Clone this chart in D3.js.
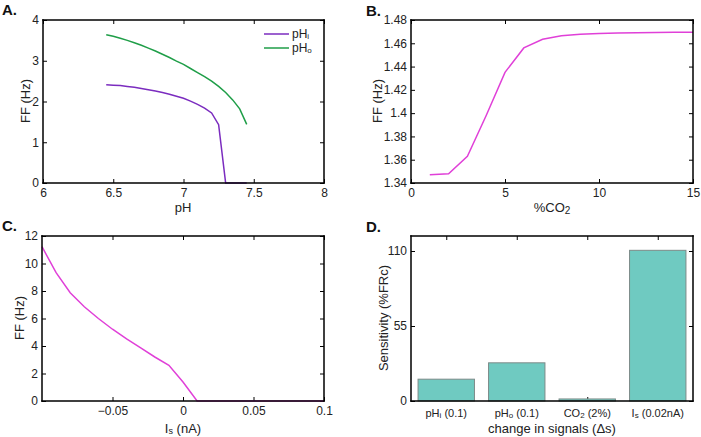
<!DOCTYPE html>
<html><head><meta charset="utf-8">
<script src="https://cdn.jsdelivr.net/npm/d3@7"></script>
<style>body{margin:0;background:#fff}svg{font-family:"Liberation Sans",Arial,sans-serif;display:block}</style>
</head><body><svg id="c" width="701" height="437"></svg>
<script>
// Panel A data
const pH = [6.45,6.5,6.55,6.6,6.65,6.7,6.75,6.8,6.85,6.9,6.95,7.0,7.05,7.1,7.15,7.2,7.25,7.3,7.35,7.4,7.45];
const ffPHi = [2.41,2.40,2.39,2.37,2.35,2.32,2.29,2.26,2.22,2.18,2.13,2.08,2.01,1.93,1.84,1.72,1.43,0,0,0,0];
const ffPHo = [3.64,3.60,3.55,3.50,3.44,3.38,3.31,3.24,3.16,3.08,2.99,2.91,2.81,2.71,2.61,2.50,2.37,2.22,2.04,1.82,1.44];
// Panel B data
const co2 = [1,2,3,4,5,6,7,8,9,10,11,12,13,14,15];
const ffCO2 = [1.347,1.348,1.363,1.398,1.435,1.456,1.4635,1.4665,1.4678,1.4684,1.4688,1.469,1.4692,1.4694,1.4695];
// Panel C data
const Is = [-0.1,-0.09,-0.08,-0.07,-0.06,-0.05,-0.04,-0.03,-0.02,-0.01,0,0.01,0.02,0.03,0.04,0.05,0.06,0.07,0.08,0.09,0.1];
const ffIs = [11.22,9.33,7.87,6.85,6.0,5.22,4.52,3.86,3.2,2.6,1.38,0,0,0,0,0,0,0,0,0,0];
// Panel D data
const signals = ["pHi (0.1)","pHo (0.1)","CO2 (2%)","Is (0.02nA)"];
const sensitivity = [16,28,1.5,110.5];
// ticks
const ticksAx = [6,6.5,7,7.5,8], ticksAy = [0,1,2,3,4];
const ticksBx = [0,5,10,15], ticksBy = [1.34,1.36,1.38,1.4,1.42,1.44,1.46,1.48];
const ticksCx = [-0.05,0,0.05,0.1], ticksCy = [0,2,4,6,8,10,12];
const ticksDy = [0,55,110];

const svg = d3.select("#c");
const TL = 4;

function panel(o){
  const g = svg.append("g");
  const x = d3.scaleLinear().domain(o.xd).range([o.x0,o.x1]);
  const y = d3.scaleLinear().domain(o.yd).range([o.y1,o.y0]);
  const xt = o.xt, yt = o.yt;
  const ax = g.append("g").attr("transform",`translate(0,${o.y1})`)
    .call(d3.axisBottom(x).tickValues(xt).tickSizeInner(-TL).tickSizeOuter(0).tickPadding(TL+1).tickFormat(o.xf||d3.format("")));
  const axT = g.append("g").attr("transform",`translate(0,${o.y0})`)
    .call(d3.axisTop(x).tickValues(xt).tickSizeInner(-TL).tickSizeOuter(0).tickFormat(""));
  const ay = g.append("g").attr("transform",`translate(${o.x0},0)`)
    .call(d3.axisLeft(y).tickValues(yt).tickSizeInner(-TL).tickSizeOuter(0).tickPadding(TL+0).tickFormat(o.yf||d3.format("")));
  const ayR = g.append("g").attr("transform",`translate(${o.x1},0)`)
    .call(d3.axisRight(y).tickValues(yt).tickSizeInner(-TL).tickSizeOuter(0).tickFormat(""));
  [ax,axT,ay,ayR].forEach(a=>{a.select(".domain").remove(); a.selectAll("line").attr("stroke","#000");
    a.selectAll("text").attr("font-size",o.fs||12).attr("fill","#222").attr("font-family","Liberation Sans, Arial, sans-serif");});
  return {g,x,y,ax,o};
}
function drawBox(p){
  const o = p.o, w = 1.5, h = w/2;
  const R = [[o.x0-h,o.y0-h,o.x1-o.x0+w,w],[o.x0-h,o.y1-h,o.x1-o.x0+w,w],
             [o.x0-h,o.y0-h,w,o.y1-o.y0+w],[o.x1-h,o.y0-h,w,o.y1-o.y0+w]];
  R.forEach(([a,b,c,d])=>svg.append("rect").attr("x",a).attr("y",b).attr("width",c).attr("height",d)
    .attr("fill","#000").attr("stroke","none"));
}

const line = (xs,ys,x,y)=>d3.line().x((d,i)=>x(xs[i])).y((d,i)=>y(ys[i]))(ys);

// ---- A
{
  const p = panel({x0:43,x1:324,y0:20,y1:183,xd:[6,8],yd:[0,4],xt:ticksAx,yt:ticksAy});
  p.g.append("path").attr("d",line(pH,ffPHo,p.x,p.y)).attr("fill","none").attr("stroke","#1f9e48").attr("stroke-width",1.5);
  p.g.append("path").attr("d",line(pH,ffPHi,p.x,p.y)).attr("fill","none").attr("stroke","#7b2cbf").attr("stroke-width",1.5);
  drawBox(p);
  const lg = p.g.append("g");
  [["#7b2cbf","i",34],["#1f9e48","o",48]].forEach(([c,s,yy])=>{
    lg.append("line").attr("x1",264).attr("x2",289).attr("y1",yy).attr("y2",yy).attr("stroke",c).attr("stroke-width",1.5);
    const t = lg.append("text").attr("x",292).attr("y",yy+4).attr("font-size",12).attr("fill","#222");
    t.append("tspan").text("pH"); t.append("tspan").text(s).attr("font-size",8).attr("dy",1);
  });
  svg.append("text").attr("x",183).attr("y",212).attr("text-anchor","middle").attr("font-size",13).attr("fill","#222").text("pH");
  svg.append("text").attr("transform","translate(30,101) rotate(-90)").attr("text-anchor","middle").attr("font-size",13).attr("fill","#222").text("FF (Hz)");
  svg.append("text").attr("x",2).attr("y",15).attr("font-size",15).attr("font-weight","bold").attr("fill","#111").text("A.");
}
// ---- B
{
  const p = panel({x0:411,x1:693,y0:20,y1:183,xd:[0,15],yd:[1.34,1.48],xt:ticksBx,yt:ticksBy,yf:d3.format("~g")});
  p.g.append("path").attr("d",line(co2,ffCO2,p.x,p.y)).attr("fill","none").attr("stroke","#e040d8").attr("stroke-width",1.5);
  drawBox(p);
  const t = svg.append("text").attr("x",552).attr("y",212).attr("text-anchor","middle").attr("font-size",13).attr("fill","#222");
  t.append("tspan").text("%CO"); t.append("tspan").text("2").attr("font-size",10).attr("dy",2);
  svg.append("text").attr("transform","translate(382,101) rotate(-90)").attr("text-anchor","middle").attr("font-size",13).attr("fill","#222").text("FF (Hz)");
  svg.append("text").attr("x",366).attr("y",16).attr("font-size",15).attr("font-weight","bold").attr("fill","#111").text("B.");
}
// ---- C
{
  const p = panel({x0:42,x1:324,y0:236,y1:401,xd:[-0.1,0.1],yd:[0,12],xt:ticksCx,yt:ticksCy,
    xf:d=>d3.format("~g")(d).replace("-","\u22120")});
  p.g.append("path").attr("d",line(Is,ffIs,p.x,p.y)).attr("fill","none").attr("stroke","#e040d8").attr("stroke-width",1.5);
  drawBox(p);
  const t = svg.append("text").attr("x",183).attr("y",433).attr("text-anchor","middle").attr("font-size",13).attr("fill","#222");
  t.append("tspan").text("I"); t.append("tspan").text("s").attr("font-size",9).attr("dy",1);
  t.append("tspan").text(" (nA)").attr("dy",-1);
  svg.append("text").attr("transform","translate(24,318) rotate(-90)").attr("text-anchor","middle").attr("font-size",13).attr("fill","#222").text("FF (Hz)");
  svg.append("text").attr("x",2).attr("y",231).attr("font-size",15).attr("font-weight","bold").attr("fill","#111").text("C.");
}
// ---- D
{
  const p = panel({x0:411,x1:693,y0:236,y1:401,xd:[0.5,4.5],yd:[0,121],xt:[1,2,3,4],yt:ticksDy,xf:()=>""});
  p.g.selectAll("rect.bar").data(sensitivity).enter().append("rect").attr("class","bar")
    .attr("x",(d,i)=>p.x(i+1-0.4)).attr("width",(d,i)=>p.x(i+1.4)-p.x(i+0.6))
    .attr("y",d=>p.y(d)).attr("height",d=>p.y(0)-p.y(d))
    .attr("fill","#6fcac1").attr("stroke","#7d8a88").attr("stroke-width",1);
  drawBox(p);
  const subs = [["pH","i"," (0.1)"],["pH","o"," (0.1)"],["CO","2"," (2%)"],["I","s"," (0.02nA)"]];
  subs.forEach((s,i)=>{
    const t = svg.append("text").attr("x",p.x(i+1)).attr("y",417).attr("text-anchor","middle").attr("font-size",11).attr("fill","#222");
    t.append("tspan").text(s[0]); t.append("tspan").text(s[1]).attr("font-size",8).attr("dy",1);
    t.append("tspan").text(s[2]).attr("dy",-1);
  });
  svg.append("text").attr("x",552).attr("y",433).attr("text-anchor","middle").attr("font-size",13).attr("fill","#222").text("change in signals (\u0394s)");
  svg.append("text").attr("transform","translate(388,318) rotate(-90)").attr("text-anchor","middle").attr("font-size",13).attr("fill","#222").text("Sensitivity (%FRc)");
  svg.append("text").attr("x",366).attr("y",232).attr("font-size",15).attr("font-weight","bold").attr("fill","#111").text("D.");
}
</script></body></html>
